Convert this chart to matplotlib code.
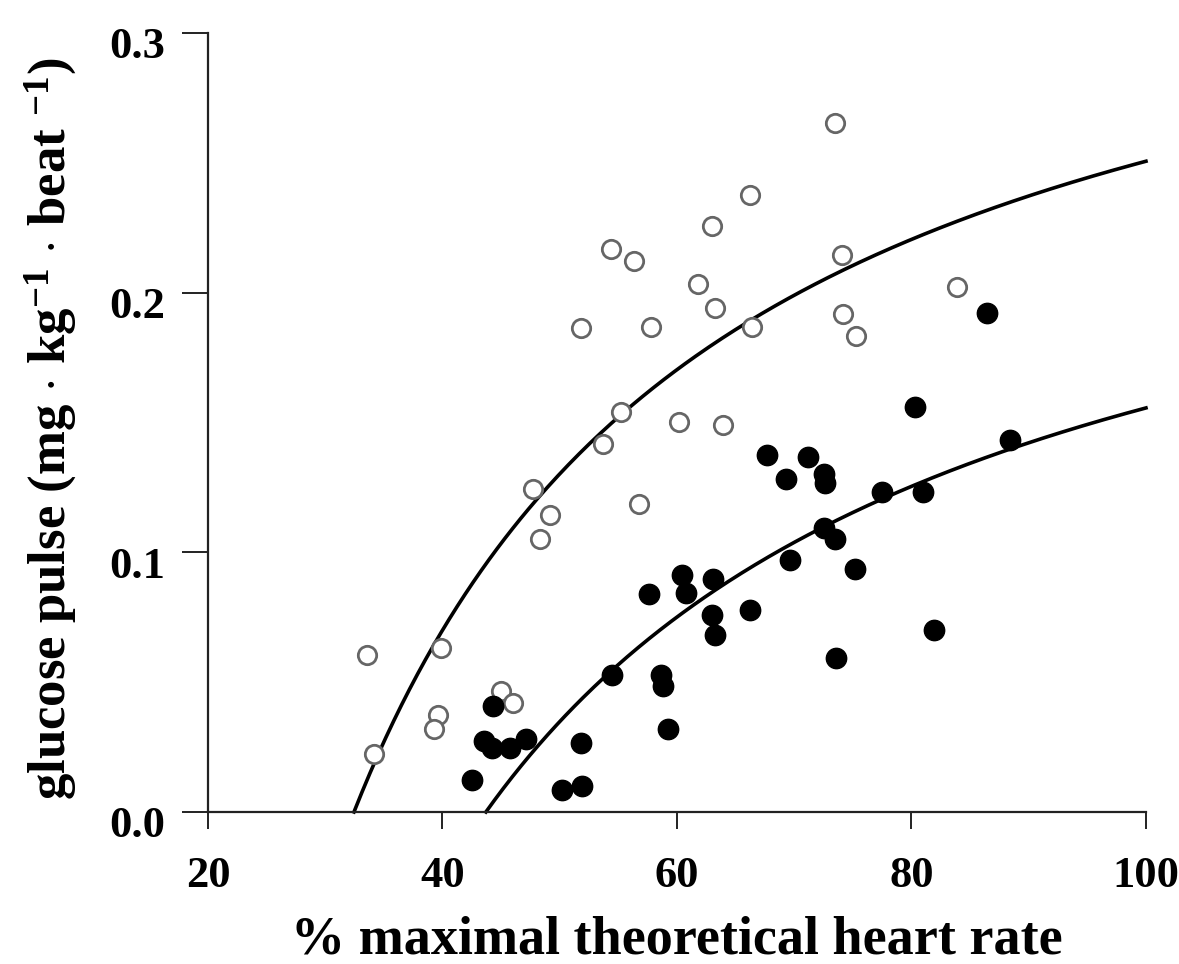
import numpy as np
import matplotlib
matplotlib.use("Agg")
import matplotlib.pyplot as plt
import matplotlib.transforms as mtransforms

# ---- data ----
open_x = [33.6, 34.2, 39.9, 39.6, 39.3, 45.0, 46.0, 47.7, 49.2, 48.3, 51.8, 53.7,
          55.2, 54.4, 56.3, 56.8, 57.8, 60.2, 61.8, 63.0, 63.2, 63.9, 66.2, 66.4,
          73.5, 74.1, 74.2, 75.3, 83.9]
open_y = [0.0605, 0.0223, 0.0630, 0.0372, 0.0318, 0.0467, 0.0418, 0.1244, 0.1144,
          0.1050, 0.1865, 0.1416, 0.1541, 0.2167, 0.2120, 0.1185, 0.1869, 0.1503,
          0.2033, 0.2257, 0.1941, 0.1490, 0.2376, 0.1869, 0.2654, 0.2145, 0.1916,
          0.1834, 0.2020]

filled_x = [44.3, 43.5, 44.2, 45.8, 47.1, 42.5, 51.8, 50.2, 51.9, 54.5, 58.6, 58.8,
            59.2, 57.6, 60.4, 60.8, 63.1, 63.0, 63.2, 66.2, 69.6, 67.7, 71.2, 69.3,
            72.5, 72.6, 72.5, 73.5, 75.2, 73.6, 77.5, 81.0, 80.3, 81.9, 86.4, 88.4]
filled_y = [0.0408, 0.0274, 0.0245, 0.0245, 0.0280, 0.0123, 0.0264, 0.0085, 0.0100,
            0.0526, 0.0526, 0.0484, 0.0321, 0.0841, 0.0912, 0.0843, 0.0899, 0.0757,
            0.0680, 0.0777, 0.0970, 0.1375, 0.1368, 0.1284, 0.1301, 0.1266, 0.1092,
            0.1050, 0.0934, 0.0592, 0.1233, 0.1233, 0.1560, 0.0701, 0.1922, 0.1432]

# fitted curves y = a - b / x (parameters)
open_fit_a, open_fit_b = 0.371, 12.04
filled_fit_a, filled_fit_b = 0.2764, 12.08

x_ticks = [20, 40, 60, 80, 100]
y_ticks = [0.0, 0.1, 0.2, 0.3]
y_ticklabels = ["0.0", "0.1", "0.2", "0.3"]

xlabel = "% maximal theoretical heart rate"
ylabel = r"glucose pulse (mg $\cdot$ kg$^{\mathbf{-1}}$ $\cdot$ beat $^{\mathbf{-1}}$)"

# ---- style ----
plt.rcParams["font.family"] = ["Liberation Serif", "DejaVu Serif"]
plt.rcParams["font.weight"] = "bold"
plt.rcParams["mathtext.fontset"] = "custom"
plt.rcParams["mathtext.rm"] = "Liberation Serif:bold"
plt.rcParams["mathtext.bf"] = "Liberation Serif:bold"
plt.rcParams["mathtext.it"] = "Liberation Serif:bold"
plt.rcParams["mathtext.default"] = "rm"

fig = plt.figure(figsize=(11.79, 9.64), dpi=100)
ax = fig.add_axes([0.1764, 0.1577, 0.972 - 0.1764, 0.9658 - 0.1577])

for a, b in [(open_fit_a, open_fit_b), (filled_fit_a, filled_fit_b)]:
    xs = np.linspace(b / a, 100, 300)
    ax.plot(xs, a - b / xs, color="black", lw=2.6, zorder=2, clip_on=False)

ax.scatter(open_x, open_y, s=175, facecolors="white", edgecolors="#666666",
           linewidths=2.0, zorder=3, clip_on=False)
ax.scatter(filled_x, filled_y, s=215, facecolors="black", edgecolors="black",
           linewidths=1.0, zorder=3, clip_on=False)

ax.set_xlim(20, 100)
ax.set_ylim(0, 0.3)
ax.set_xticks(x_ticks)
ax.set_xticklabels([str(t) for t in x_ticks])
ax.set_yticks(y_ticks)
ax.set_yticklabels(y_ticklabels)

for s in ["top", "right"]:
    ax.spines[s].set_visible(False)
for s in ["left", "bottom"]:
    ax.spines[s].set_linewidth(1.6)
    ax.spines[s].set_color("#222222")

ax.tick_params(axis="x", direction="out", length=12, width=1.4, pad=20,
               labelsize=32, colors="#222222", labelcolor="black")
ax.tick_params(axis="y", direction="out", length=19, width=1.4, pad=12,
               labelsize=32, colors="#222222", labelcolor="black")
for lab in ax.get_xticklabels() + ax.get_yticklabels():
    lab.set_fontweight("bold")
offset = mtransforms.ScaledTranslation(0, -7 / 72, fig.dpi_scale_trans)
for lab in ax.get_yticklabels():
    lab.set_transform(lab.get_transform() + offset)

ax.set_xlabel(xlabel, fontsize=39, fontweight="bold", labelpad=14)
ax.set_ylabel(ylabel, fontsize=38, fontweight="bold")
ax.yaxis.set_label_coords(-0.138, 0.492)

fig.savefig("out.png", dpi=100, facecolor="white")
